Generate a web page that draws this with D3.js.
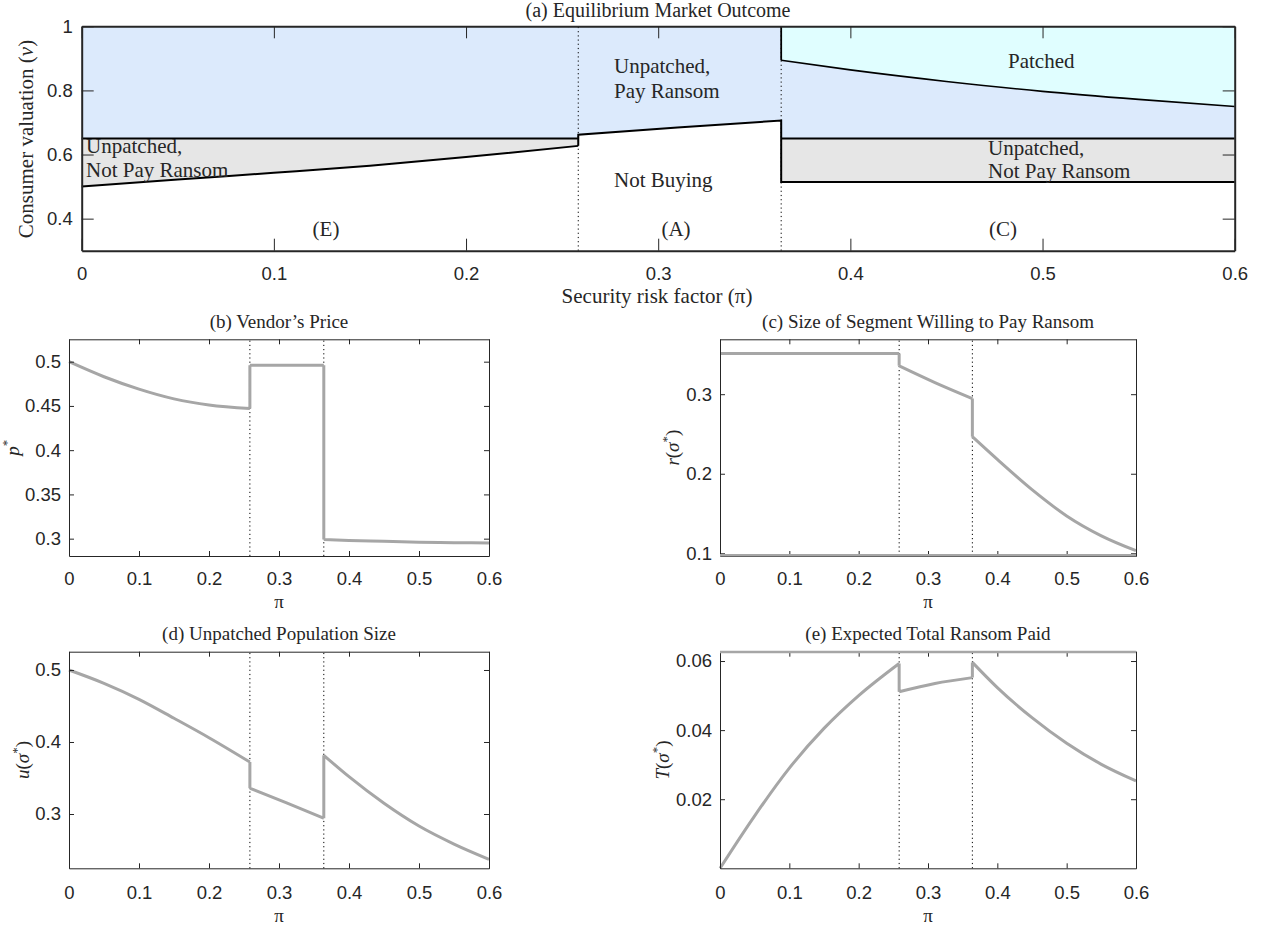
<!DOCTYPE html>
<html>
<head>
<meta charset="utf-8">
<script src="https://cdn.jsdelivr.net/npm/d3@7"></script>
<style>
  body { margin: 0; background: #fff; }
  text { fill: #262626; }
  .serif text { font-family: "Liberation Serif", "Times New Roman", serif; }
  .tick text { font-family: "Liberation Sans", Arial, sans-serif; font-size: 18.5px; fill: #262626; }
  .tick line, .domain { stroke: #262626; }
</style>
</head>
<body>
<svg id="fig" width="1266" height="930"></svg>
<script>
// regime boundaries on the risk factor
const breaks = [0.2584, 0.364];
const xTicks = [0, 0.1, 0.2, 0.3, 0.4, 0.5, 0.6];

// (a) market outcome: pi grid of each regime and the valuation thresholds
const piE = [0, 0.05, 0.1, 0.15, 0.2, 0.2584];
const vBuyE = [0.500, 0.522, 0.543, 0.565, 0.592, 0.627];
const vRansom = 0.65;
const piA = [0.2584, 0.31, 0.364];
const vBuyA = [0.662, 0.684, 0.706];
const piC = [0.364, 0.4, 0.45, 0.5, 0.55, 0.6];
const vPatch = [0.894, 0.864, 0.828, 0.797, 0.772, 0.750];
const vBuyC = 0.514;

// (b)-(e): one array per regime, same pi grids as above
const piSegs = [piE, piA, piC];
const price = [[0.500, 0.483, 0.469, 0.458, 0.451, 0.447], [0.496, 0.496, 0.496], [0.299, 0.298, 0.297, 0.296, 0.2955, 0.295]];
const ransomSeg = [[0.351, 0.351, 0.351, 0.351, 0.351, 0.351], [0.3356, 0.3146, 0.2945], [0.2466, 0.218, 0.180, 0.147, 0.122, 0.1033]];
const unpatched = [[0.500, 0.4815, 0.4593, 0.433, 0.406, 0.3722], [0.3357, 0.3157, 0.294], [0.3815, 0.3518, 0.3149, 0.2833, 0.2583, 0.2371]];
const totalRansom = [[0, 0.0152, 0.0290, 0.0405, 0.0500, 0.0593], [0.0511, 0.0535, 0.0552], [0.0596, 0.0523, 0.0436, 0.0362, 0.0301, 0.0253]];

const svg = d3.select("#fig");
const grayLine = "#a6a6a6";
const serifFont = "'Liberation Serif', 'Times New Roman', serif";

function dotted(g, x, y) {
  g.selectAll(".brk").data(breaks).enter().append("line")
    .attr("x1", d => x(d)).attr("x2", d => x(d))
    .attr("y1", y.range()[0]).attr("y2", y.range()[1])
    .attr("stroke", "#000").attr("stroke-width", 1).attr("stroke-dasharray", "1.2,3");
}

function frame(g, x, y, yTicks, tick, padX, padY, sw) {
  const x0 = x.range()[0], x1 = x.range()[1], y0 = y.range()[0], y1 = y.range()[1];
  g.append("g").attr("transform", `translate(0,${y0})`)
    .call(d3.axisBottom(x).tickValues(xTicks).tickSizeInner(-tick).tickSizeOuter(0).tickPadding(padX).tickFormat(d => String(d)));
  g.append("g").attr("transform", `translate(0,${y1})`)
    .call(d3.axisTop(x).tickValues(xTicks).tickSizeInner(-tick).tickSizeOuter(0).tickFormat(""));
  g.append("g").attr("transform", `translate(${x0},0)`)
    .call(d3.axisLeft(y).tickValues(yTicks).tickSizeInner(-tick).tickSizeOuter(0).tickPadding(padY).tickFormat(d => String(d)));
  g.append("g").attr("transform", `translate(${x1},0)`)
    .call(d3.axisRight(y).tickValues(yTicks).tickSizeInner(-tick).tickSizeOuter(0).tickFormat(""));
  g.selectAll(".domain").attr("stroke-width", sw);
  g.selectAll(".tick line").attr("stroke-width", 1);
}

function lbl(g, x, y, s, anchor) {
  return g.append("text").attr("x", x).attr("y", y).attr("font-family", serifFont)
    .attr("text-anchor", anchor || "start").text(s);
}

// ---------- (a) Equilibrium Market Outcome ----------
const xa = d3.scaleLinear().domain([0, 0.6]).range([81.7, 1234.7]);
const ya = d3.scaleLinear().domain([0.3, 1]).range([250.7, 26.3]);
const ga = svg.append("g");

const area = d3.area().x(d => xa(d.x)).y0(d => ya(d.lo)).y1(d => ya(d.hi));
const areaC = d3.area().x(d => xa(d.x)).y0(d => ya(d.lo)).y1(d => ya(d.hi)).curve(d3.curveMonotoneX);

// unpatched & paying ransom (blue)
const blueEA = [{ x: 0, lo: vRansom, hi: 1 }, { x: breaks[0], lo: vRansom, hi: 1 }]
  .concat(piA.map((p, i) => ({ x: p, lo: vBuyA[i], hi: 1 })));
ga.append("path").attr("d", area(blueEA)).attr("fill", "#dceafc");
ga.append("path").attr("d", areaC(piC.map((p, i) => ({ x: p, lo: vRansom, hi: vPatch[i] })))).attr("fill", "#dceafc");

// patched (cyan)
ga.append("path").attr("d", areaC(piC.map((p, i) => ({ x: p, lo: vPatch[i], hi: 1 })))).attr("fill", "#e0feff");

// unpatched & not paying (gray)
ga.append("path").attr("d", areaC(piE.map((p, i) => ({ x: p, lo: vBuyE[i], hi: vRansom })))).attr("fill", "#e6e6e6");
ga.append("path").attr("d", area(piC.map(p => ({ x: p, lo: vBuyC, hi: vRansom })))).attr("fill", "#e6e6e6");

dotted(ga, xa, ya);

const line = d3.line().x(d => xa(d[0])).y(d => ya(d[1]));
const curve = d3.line().x(d => xa(d[0])).y(d => ya(d[1])).curve(d3.curveMonotoneX);
const bl = ga.append("g").attr("fill", "none").attr("stroke", "#000").attr("stroke-width", 2);
bl.append("path").attr("d", curve(piE.map((p, i) => [p, vBuyE[i]])));
bl.append("path").attr("d", line([[breaks[0], vBuyE[vBuyE.length - 1]]].concat(piA.map((p, i) => [p, vBuyA[i]]))
  .concat([[breaks[1], vBuyC], [0.6, vBuyC]])));
bl.append("path").attr("d", line([[0, vRansom], [breaks[0], vRansom]]));
bl.append("path").attr("d", line([[breaks[1], vRansom], [0.6, vRansom]]));
bl.append("path").attr("d", line([[breaks[1], 1], [breaks[1], vPatch[0]]])).attr("stroke-width", 1.8);
bl.append("path").attr("d", curve(piC.map((p, i) => [p, vPatch[i]]))).attr("stroke-width", 1.6);

frame(ga, xa, ya, [0.4, 0.6, 0.8, 1], 12, 16, 9, 2);

const tA = ga.append("g").attr("font-size", "21px");
lbl(tA, 86, 153, "Unpatched,");
lbl(tA, 86, 177, "Not Pay Ransom");
lbl(tA, 614, 73, "Unpatched,");
lbl(tA, 614, 98, "Pay Ransom");
lbl(tA, 614, 187, "Not Buying");
lbl(tA, 1008, 68, "Patched");
lbl(tA, 988, 155, "Unpatched,");
lbl(tA, 988, 178, "Not Pay Ransom");
lbl(tA, 326, 236, "(E)", "middle");
lbl(tA, 676, 236, "(A)", "middle");
lbl(tA, 1003, 236, "(C)", "middle");
lbl(tA, 658, 17, "(a) Equilibrium Market Outcome", "middle").attr("font-size", "20px");
lbl(tA, 657, 303, "Security risk factor (\u03c0)", "middle");
const yl = tA.append("text").attr("transform", "translate(33,139) rotate(-90)")
  .attr("font-family", serifFont).attr("text-anchor", "middle");
yl.append("tspan").text("Consumer valuation (");
yl.append("tspan").attr("font-style", "italic").text("v");
yl.append("tspan").text(")");

// ---------- small panels ----------
function panel(cfg) {
  const x = d3.scaleLinear().domain([0, 0.6]).range(cfg.xr);
  const y = d3.scaleLinear().domain(cfg.yd).range(cfg.yr);
  const g = svg.append("g");
  dotted(g, x, y);
  const ln = d3.line().x(d => x(d[0])).y(d => y(d[1])).curve(d3.curveMonotoneX);
  const lnLin = d3.line().x(d => x(d[0])).y(d => y(d[1]));
  let d = "";
  piSegs.forEach((ps, k) => {
    d += ln(ps.map((p, i) => [p, cfg.vals[k][i]]));
  });
  // vertical jumps at the regime boundaries
  breaks.forEach((b, k) => {
    d += lnLin([[b, cfg.vals[k][cfg.vals[k].length - 1]], [b, cfg.vals[k + 1][0]]]);
  });
  g.append("path").attr("d", d).attr("fill", "none").attr("stroke", grayLine)
    .attr("stroke-width", 3).attr("stroke-linejoin", "round");
  frame(g, x, y, cfg.yTicks, 5, cfg.padX, 8, 1);
  if (cfg.grayEdge !== undefined) {
    g.append("line").attr("x1", cfg.xr[0]).attr("x2", cfg.xr[1])
      .attr("y1", cfg.grayEdge).attr("y2", cfg.grayEdge)
      .attr("stroke", grayLine).attr("stroke-width", 2.5);
  }
  const t = g.append("g").attr("font-size", "19px");
  const cx = (cfg.xr[0] + cfg.xr[1]) / 2;
  lbl(t, cx, cfg.titleY, cfg.title, "middle");
  lbl(t, cx, cfg.piY, "\u03c0", "middle");
  const yt = t.append("text").attr("transform", `translate(${cfg.ylx},${(cfg.yr[0] + cfg.yr[1]) / 2}) rotate(-90)`)
    .attr("font-family", serifFont).attr("text-anchor", "middle");
  yt.append("tspan").attr("font-style", "italic").text(cfg.yl[0]);
  if (cfg.yl[1] === "p") {
    yt.append("tspan").attr("font-size", "13px").attr("dy", -8).text("*");
  } else {
    yt.append("tspan").text("(");
    yt.append("tspan").attr("font-style", "italic").text("\u03c3");
    yt.append("tspan").attr("font-size", "13px").attr("dy", -8).text("*");
    yt.append("tspan").attr("dy", 8).text(")");
  }
}

panel({ xr: [69, 489], yr: [556, 339.3], yd: [0.2804, 0.5253], yTicks: [0.3, 0.35, 0.4, 0.45, 0.5],
  vals: price, title: "(b) Vendor\u2019s Price", titleY: 328, piY: 608, padX: 16, ylx: 19, yl: ["p", "p"] });
panel({ xr: [720, 1136], yr: [556, 339.3], yd: [0.0966, 0.369], yTicks: [0.1, 0.2, 0.3],
  vals: ransomSeg, title: "(c) Size of Segment Willing to Pay Ransom", titleY: 328, piY: 608, padX: 16, ylx: 679, yl: ["r", "s"], grayEdge: 555.3 });
panel({ xr: [69, 489], yr: [868.3, 651.7], yd: [0.2246, 0.5254], yTicks: [0.3, 0.4, 0.5],
  vals: unpatched, title: "(d) Unpatched Population Size", titleY: 640, piY: 922, padX: 18, ylx: 29, yl: ["u", "s"] });
panel({ xr: [720, 1136], yr: [868.3, 651.7], yd: [0, 0.0627], yTicks: [0.02, 0.04, 0.06],
  vals: totalRansom, title: "(e) Expected Total Ransom Paid", titleY: 640, piY: 922, padX: 18, ylx: 669, yl: ["T", "s"], grayEdge: 652 });
</script>
</body>
</html>
